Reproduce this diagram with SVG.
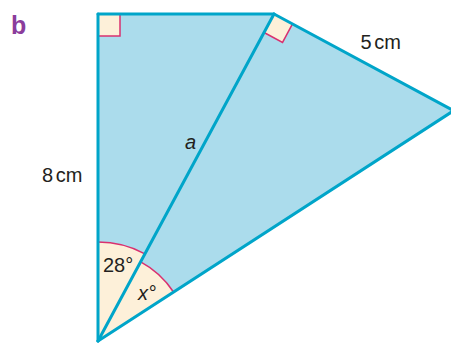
<svg xmlns="http://www.w3.org/2000/svg" width="451" height="344" viewBox="0 0 451 344">
<style>
.fill{fill:#abdcec;stroke:none}
.cream{fill:#fdf0d9;stroke:none}
.pink{fill:none;stroke:#d9306f;stroke-width:1.5}
.edge{fill:none;stroke:#00a5c9;stroke-width:3;stroke-linecap:round;stroke-linejoin:round}
.lbl{font-family:"Liberation Sans",Arial,sans-serif;font-size:20px;fill:#231f20}
.it{font-style:italic}
.tag{font-family:"Liberation Sans",Arial,sans-serif;font-size:25px;font-weight:bold;fill:#8b3d9c}
</style>
<rect width="451" height="344" fill="#ffffff"/>
<text class="tag" x="11" y="34">b</text>
<g id="shape">
<polygon class="fill" points="98,14 274,14 453.6,110.7 98,341"/>
</g>
<g id="marks">
<rect class="cream" x="98" y="14" width="22" height="22"/>
<polyline class="pink" points="120,14 120,36 98,36"/>
<polygon class="cream" points="274,14 264.05,32.49 282.54,42.44 292.49,23.95"/>
<polyline class="pink" points="264.05,32.49 282.54,42.44 292.49,23.95"/>
<path class="cream" d="M98,341 L98,242 A99,99 0 0,1 144.9,253.8 Z"/>
<path class="pink" d="M98,242 A99,99 0 0,1 144.9,253.8"/>
<path class="cream" d="M98,341 L140.65,261.8 A90,90 0 0,1 173.5,292 Z"/>
<path class="pink" d="M140.65,261.8 A90,90 0 0,1 173.5,292"/>
</g>
<g id="connectors">
<line class="edge" x1="98" y1="14" x2="98" y2="341"/>
<line class="edge" x1="98" y1="14" x2="274" y2="14"/>
<line class="edge" x1="274" y1="14" x2="453.6" y2="110.7"/>
<line class="edge" x1="453.6" y1="110.7" x2="98" y2="341"/>
<line class="edge" x1="98" y1="341" x2="274" y2="14"/>
</g>
<g id="labels">
<text class="lbl" x="42" y="182" word-spacing="-3">8 cm</text>
<text class="lbl" x="360.5" y="49" word-spacing="-3">5 cm</text>
<text class="lbl it" x="185" y="149">a</text>
<text class="lbl" x="103" y="272">28°</text>
<text class="lbl it" x="138" y="300">x°</text>
</g>
</svg>
